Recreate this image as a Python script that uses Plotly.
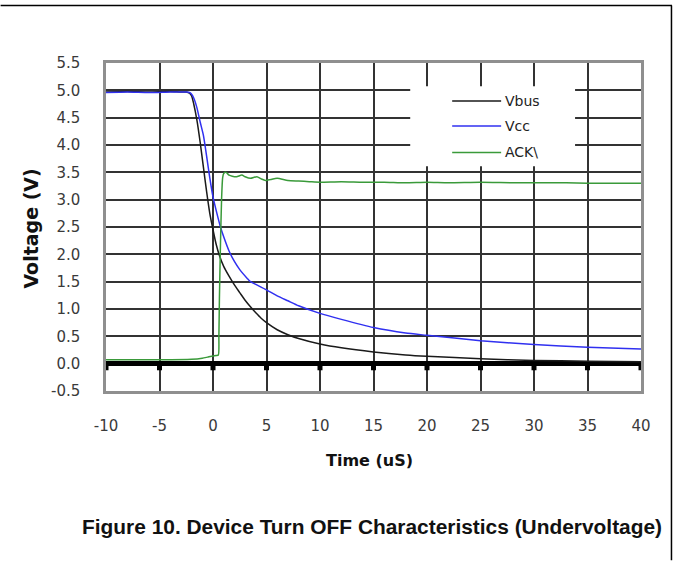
import plotly.graph_objects as go

# ---------------- data ----------------
vbus_t = [-10, -8, -6, -4, -3, -2.5, -2.2, -2.0, -1.8, -1.5, -1.2, -0.9, -0.6, -0.3, 0,
          0.3, 0.6, 1.0, 1.5, 2, 2.5, 3, 3.5, 4, 4.5, 5, 6, 7, 8, 10, 12, 15, 18, 20, 25, 30, 35, 40]
vbus_v = [4.97, 4.98, 4.97, 4.98, 4.97, 4.97, 4.95, 4.90, 4.75, 4.45, 4.05, 3.60, 3.15, 2.75, 2.45,
          2.18, 1.98, 1.78, 1.60, 1.44, 1.30, 1.16, 1.04, 0.93, 0.83, 0.75, 0.62, 0.53, 0.46, 0.36,
          0.29, 0.215, 0.16, 0.135, 0.09, 0.06, 0.045, 0.035]

vcc_t = [-10, -8, -6, -4, -3, -2.5, -2.2, -2.0, -1.8, -1.5, -1.2, -0.9, -0.6, -0.3, 0,
         0.3, 0.7, 1.0, 1.5, 2, 2.5, 3.2, 3.5, 4, 5, 6, 7, 8, 10, 12, 15, 18, 20, 25, 30, 35, 40]
vcc_v = [4.96, 4.97, 4.96, 4.97, 4.97, 4.97, 4.96, 4.93, 4.86, 4.68, 4.42, 4.18, 3.80, 3.40, 3.05,
         2.80, 2.50, 2.32, 2.06, 1.87, 1.72, 1.56, 1.50, 1.45, 1.35, 1.24, 1.15, 1.06, 0.92, 0.81,
         0.66, 0.56, 0.52, 0.42, 0.35, 0.30, 0.27]

ack_t = [-10, -5, -2, -1, -0.5, 0, 0.3, 0.5, 0.55, 0.6, 0.7, 0.8, 0.9, 1.0, 1.2, 1.5, 1.8, 2.2,
         2.7, 3.0, 3.5, 4.1, 4.5, 4.9, 5.4, 6.0, 7, 8, 9, 10, 12, 14, 16, 18, 20, 22, 25, 28, 30,
         33, 35, 38, 40]
ack_v = [0.07, 0.07, 0.08, 0.10, 0.12, 0.14, 0.15, 0.16, 0.50, 1.20, 2.20, 3.00, 3.40, 3.48, 3.50,
         3.45, 3.43, 3.42, 3.45, 3.42, 3.39, 3.42, 3.38, 3.35, 3.37, 3.39, 3.35, 3.34, 3.33, 3.32,
         3.33, 3.32, 3.32, 3.31, 3.32, 3.31, 3.32, 3.31, 3.31, 3.31, 3.30, 3.30, 3.30]

series_names = ["Vbus", "Vcc", "ACK\\"]
x_ticks = [-10, -5, 0, 5, 10, 15, 20, 25, 30, 35, 40]
x_tick_labels = ["-10", "-5", "0", "5", "10", "15", "20", "25", "30", "35", "40"]
y_ticks = [-0.5, 0.0, 0.5, 1.0, 1.5, 2.0, 2.5, 3.0, 3.5, 4.0, 4.5, 5.0, 5.5]
y_tick_labels = ["-0.5", "0.0", "0.5", "1.0", "1.5", "2.0", "2.5", "3.0", "3.5", "4.0", "4.5", "5.0", "5.5"]

colors = ["#1a1a1a", "#3030f0", "#3a9a3a"]

fig = go.Figure()
for t, v, name, c in zip([vbus_t, vcc_t, ack_t], [vbus_v, vcc_v, ack_v], series_names, colors):
    fig.add_trace(go.Scatter(x=t, y=v, mode="lines", name=name, line_shape="spline",
                             line=dict(color=c, width=1.5, smoothing=0.6), showlegend=False))

# small square tick marks hanging under the zero line
fig.add_trace(go.Scatter(x=x_ticks, y=[-0.075] * len(x_ticks), mode="markers",
                         marker=dict(symbol="square", size=5, color="black"),
                         showlegend=False, hoverinfo="skip", cliponaxis=False))

L, R, T, B = 105.5, 32, 62.6, 169.6
W, H = 673, 561
pw, ph = W - L - R, H - T - B


def px(xp):
    return (xp - L) / pw


def py(yp):
    return (H - B - yp) / ph


tick_font = dict(family="DejaVu Sans", size=15, color="#3a3a3a")

fig.update_layout(
    width=W, height=H,
    margin=dict(l=L, r=R, t=T, b=B),
    paper_bgcolor="white", plot_bgcolor="white",
    showlegend=False,
    xaxis=dict(range=[-10, 40], tickvals=x_ticks, ticktext=x_tick_labels, ticks="", showgrid=True,
               gridcolor="#333333", gridwidth=1.5, zeroline=False,
               showline=True, mirror=True, linecolor="#8f8f8f", linewidth=2.5,
               tickfont=tick_font, ticklabelstandoff=19),
    yaxis=dict(range=[-0.5, 5.5], tickvals=y_ticks, ticktext=y_tick_labels, ticks="",
               showgrid=True, gridcolor="#333333", gridwidth=1.5,
               zeroline=True, zerolinecolor="black", zerolinewidth=4.5,
               showline=True, mirror=True, linecolor="#8f8f8f", linewidth=2.5,
               tickfont=tick_font, ticklabelstandoff=20),
)

shapes = [
    # legend box
    dict(type="rect", xref="paper", yref="paper", x0=px(410), x1=px(575), y0=py(166), y1=py(86),
         fillcolor="white", line=dict(width=0), layer="above"),
    # page frame lines
    dict(type="line", xref="paper", yref="paper", x0=px(0), x1=px(672), y0=py(5), y1=py(5),
         line=dict(color="black", width=1.5)),
    dict(type="line", xref="paper", yref="paper", x0=px(671.5), x1=px(671.5), y0=py(5), y1=py(561),
         line=dict(color="black", width=1.5)),
]
annotations = []
leg_y = [100.7, 125.7, 152.3]
for name, c, yy in zip(series_names, colors, leg_y):
    shapes.append(dict(type="line", xref="paper", yref="paper", x0=px(452), x1=px(501),
                       y0=py(yy), y1=py(yy), line=dict(color=c, width=1.5), layer="above"))
    annotations.append(dict(xref="paper", yref="paper", x=px(503), y=py(yy), text=name,
                            showarrow=False, xanchor="left", yanchor="middle",
                            font=dict(family="DejaVu Sans", size=14, color="#222222")))

annotations += [
    dict(xref="paper", yref="paper", x=px(30), y=py(229), text="Voltage (V)", textangle=-90,
         showarrow=False, xanchor="center", yanchor="middle",
         font=dict(family="DejaVu Sans", size=19, color="#111111", weight="bold")),
    dict(xref="paper", yref="paper", x=px(369), y=py(461), text="Time (uS)",
         showarrow=False, xanchor="center", yanchor="middle",
         font=dict(family="DejaVu Sans", size=16, color="#111111", weight="bold")),
    dict(xref="paper", yref="paper", x=px(372), y=py(527),
         text="Figure 10. Device Turn OFF Characteristics (Undervoltage)",
         showarrow=False, xanchor="center", yanchor="middle",
         font=dict(family="Liberation Sans", size=20.9, color="#111111", weight="bold")),
]
fig.update_layout(shapes=shapes, annotations=annotations)

fig.write_html("out.html")
